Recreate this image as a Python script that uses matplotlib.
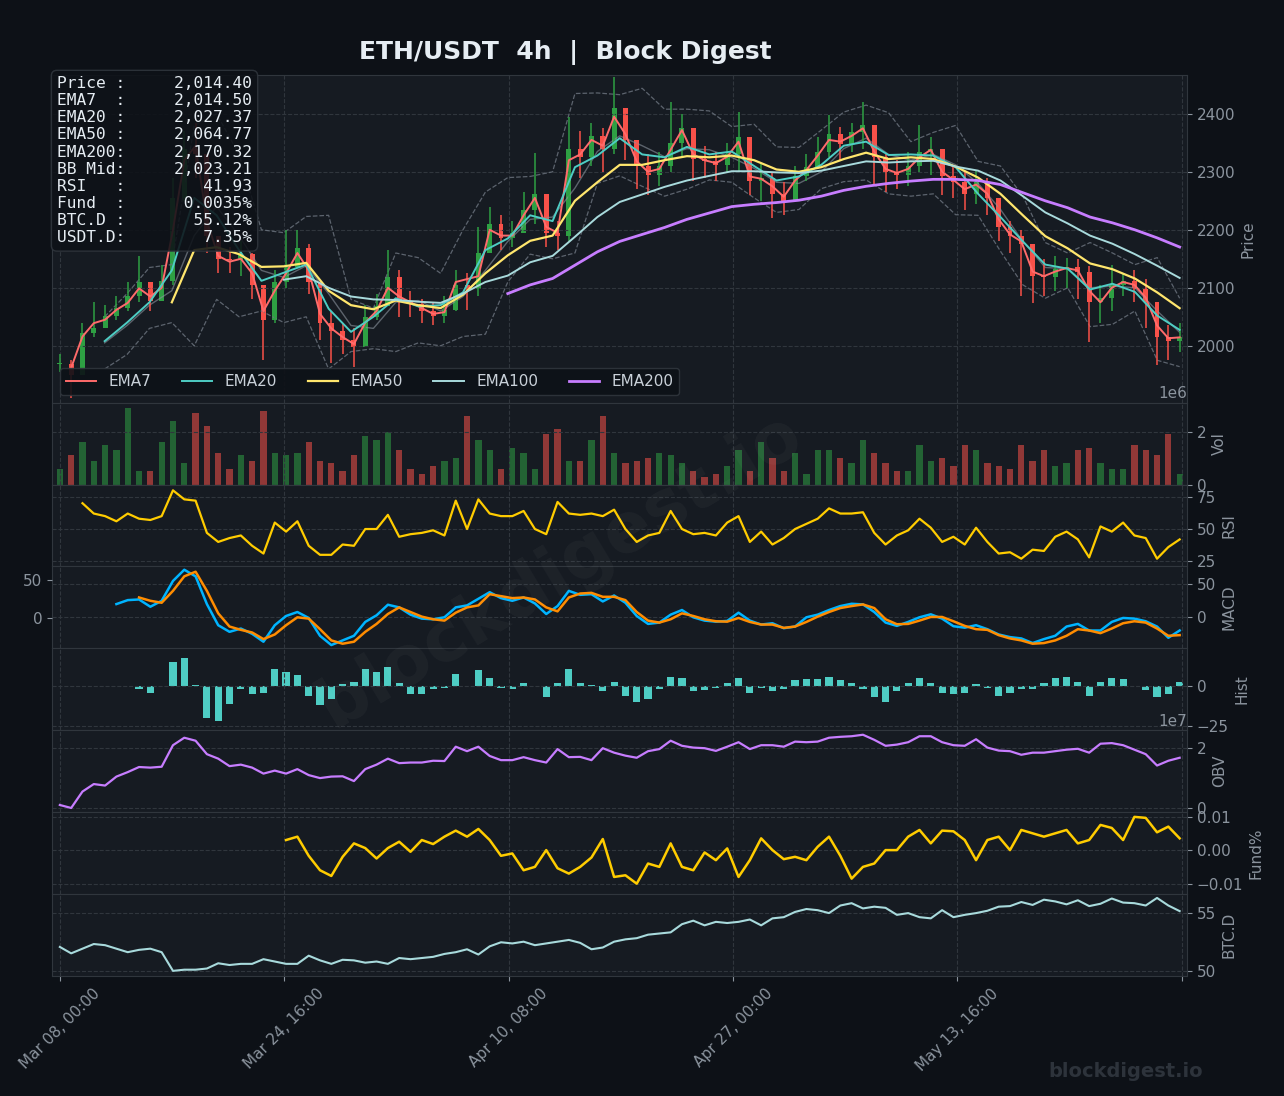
import numpy as np
import pandas as pd
import matplotlib
matplotlib.use("Agg")
import matplotlib.pyplot as plt

BG = "#0d1117"
PANEL = "#161b22"
GRID = "#30363d"
TXT = "#8b949e"
UP = "#2ea043"
DN = "#f85149"

# ---- ETH/USDT 4h, every 5 bars (last point = bar 499) ----
close = [1968, 1950, 2022, 2030, 2052, 2066, 2085, 2110, 2078, 2112,
         2255, 2340, 2330, 2190, 2150, 2148, 2158, 2105, 2045, 2110,
         2135, 2168, 2110, 2040, 2025, 2010, 1998, 2050, 2068, 2118,
         2078, 2072, 2060, 2052, 2062, 2105, 2098, 2160, 2210, 2185,
         2195, 2235, 2262, 2195, 2190, 2340, 2325, 2362, 2340, 2410,
         2355, 2310, 2295, 2310, 2350, 2375, 2322, 2318, 2312, 2330,
         2360, 2285, 2290, 2262, 2250, 2292, 2308, 2335, 2365, 2348,
         2368, 2380, 2325, 2300, 2295, 2310, 2335, 2340, 2292, 2282,
         2262, 2282, 2255, 2205, 2190, 2175, 2120, 2118, 2132, 2136,
         2128, 2075, 2082, 2105, 2112, 2098, 2075, 2015, 2008, 2014.4]
high = [1985, 1975, 2040, 2075, 2070, 2085, 2110, 2155, 2105, 2140,
        2290, 2370, 2385, 2260, 2185, 2170, 2180, 2160, 2085, 2130,
        2200, 2200, 2175, 2090, 2060, 2040, 2030, 2070, 2090, 2166,
        2130, 2095, 2080, 2075, 2085, 2131, 2125, 2205, 2240, 2225,
        2215, 2265, 2332, 2245, 2215, 2395, 2370, 2385, 2375, 2464,
        2400, 2355, 2330, 2335, 2421, 2400, 2365, 2345, 2335, 2350,
        2404, 2340, 2315, 2300, 2282, 2310, 2330, 2360, 2398, 2378,
        2385, 2421, 2365, 2330, 2320, 2335, 2381, 2360, 2330, 2310,
        2300, 2303, 2290, 2255, 2215, 2200, 2160, 2150, 2155, 2152,
        2150, 2138, 2105, 2140, 2125, 2130, 2115, 2070, 2035, 2040]
low = [1955, 1910, 1995, 2015, 2030, 2045, 2060, 2075, 2060, 2085,
       2105, 2250, 2290, 2160, 2125, 2125, 2120, 2080, 1976, 2040,
       2100, 2135, 2090, 2010, 1970, 1985, 1964, 2000, 2045, 2075,
       2050, 2050, 2040, 2035, 2040, 2060, 2062, 2085, 2160, 2165,
       2170, 2200, 2210, 2170, 2165, 2180, 2290, 2310, 2300, 2330,
       2320, 2270, 2260, 2275, 2300, 2325, 2285, 2290, 2285, 2300,
       2300, 2260, 2250, 2220, 2225, 2255, 2285, 2305, 2325, 2320,
       2335, 2340, 2275, 2265, 2270, 2275, 2300, 2295, 2260, 2255,
       2235, 2245, 2225, 2180, 2160, 2085, 2074, 2085, 2095, 2100,
       2080, 2007, 2040, 2060, 2085, 2075, 2030, 1967, 1975, 1990]
ema7 = [None, 1962, 2016, 2039, 2045, 2062, 2074, 2099, 2085, 2100,
        2200, 2320, 2345, 2215, 2155, 2145, 2150, 2125, 2060, 2095,
        2125, 2160, 2130, 2055, 2030, 2015, 2003, 2040, 2060, 2100,
        2085, 2075, 2065, 2055, 2058, 2110, 2115, 2120, 2200, 2190,
        2190, 2225, 2255, 2205, 2195, 2320, 2330, 2355, 2345, 2395,
        2365, 2318, 2300, 2305, 2338, 2372, 2330, 2320, 2315, 2326,
        2352, 2292, 2288, 2275, 2257, 2285, 2303, 2328, 2355, 2352,
        2362, 2375, 2335, 2305, 2298, 2305, 2325, 2338, 2300, 2286,
        2270, 2278, 2262, 2218, 2192, 2180, 2128, 2120, 2128, 2134,
        2130, 2095, 2075, 2100, 2110, 2105, 2083, 2035, 2013, 2014.5]

# smoother lines, every 10 bars (bar 0 ... bar 500)
ema20 = [None, None, 2008, 2040, 2075, 2130, 2255, 2225, 2165, 2112,
         2126, 2140, 2064, 2024, 2050, 2082, 2068, 2070, 2092, 2165,
         2185, 2225, 2215, 2308, 2328, 2358, 2330, 2325, 2343, 2330,
         2335, 2310, 2285, 2292, 2312, 2345, 2352, 2329, 2330, 2328,
         2308, 2262, 2222, 2180, 2140, 2133, 2097, 2107, 2093, 2052, 2027.4]
ema50 = [None, None, None, None, None, 2075, 2165, 2170, 2158, 2136,
         2137, 2143, 2095, 2070, 2063, 2078, 2070, 2065, 2088, 2125,
         2156, 2181, 2190, 2250, 2282, 2312, 2312, 2320, 2327, 2325,
         2328, 2320, 2304, 2300, 2308, 2322, 2333, 2322, 2325, 2322,
         2309, 2290, 2262, 2225, 2189, 2168, 2142, 2132, 2116, 2092, 2064.8]
ema100 = [None, None, None, None, None, None, None, None, None, None,
          2114, 2120, 2100, 2085, 2080, 2079, 2076, 2074, 2090, 2110,
          2121, 2144, 2155, 2188, 2222, 2248, 2261, 2274, 2285, 2293,
          2301, 2301, 2299, 2298, 2302, 2310, 2318, 2316, 2318, 2319,
          2309, 2302, 2285, 2258, 2230, 2211, 2190, 2176, 2158, 2138, 2117]
ema200 = [None] * 20 + [2090, 2105, 2116, 2139, 2162, 2180, 2192, 2204, 2218, 2229,
                        2240, 2244, 2247, 2251, 2258, 2268, 2275, 2280, 2284, 2287,
                        2287, 2285, 2278, 2264, 2250, 2238, 2222, 2212, 2200, 2186, 2170.3]
bb_mid = [None, None, 2005, 2035, 2070, 2095, 2190, 2240, 2190, 2130,
          2118, 2138, 2090, 2035, 2030, 2075, 2078, 2060, 2085, 2130,
          2180, 2218, 2222, 2272, 2335, 2362, 2345, 2326, 2340, 2338,
          2325, 2306, 2282, 2280, 2300, 2340, 2358, 2330, 2320, 2330,
          2312, 2280, 2235, 2180, 2135, 2133, 2100, 2103, 2100, 2060, 2023.2]
bb_up = [None, None, 2050, 2090, 2135, 2140, 2380, 2400, 2330, 2200,
         2195, 2223, 2225, 2080, 2065, 2160, 2152, 2125, 2200, 2265,
         2290, 2292, 2300, 2435, 2436, 2433, 2444, 2408, 2408, 2405,
         2378, 2382, 2343, 2342, 2372, 2403, 2415, 2402, 2352, 2368,
         2380, 2318, 2310, 2258, 2178, 2160, 2178, 2160, 2140, 2152, 2082]
bb_lo = [None, None, 1960, 1985, 2030, 2040, 2000, 2080, 2050, 2060,
         2040, 2050, 1960, 1990, 1995, 1990, 2005, 2000, 2016, 2020,
         2110, 2158, 2150, 2160, 2280, 2293, 2275, 2258, 2270, 2286,
         2282, 2255, 2230, 2235, 2271, 2283, 2286, 2262, 2258, 2262,
         2226, 2225, 2163, 2105, 2082, 2100, 2033, 2037, 2060, 1975, 1964]

vol_m = [0.6, 1.1, 1.6, 0.9, 1.5, 1.3, 2.9, 0.5, 0.5, 1.6,
         2.4, 0.8, 2.7, 2.2, 1.2, 0.6, 1.1, 0.9, 2.8, 1.2,
         1.1, 1.2, 1.6, 0.9, 0.8, 0.5, 1.1, 1.85, 1.7, 2.0,
         1.3, 0.6, 0.4, 0.7, 0.9, 1.0, 2.6, 1.7, 1.3, 0.6,
         1.4, 1.2, 0.6, 1.9, 2.1, 0.9, 0.9, 1.7, 2.6, 1.2,
         0.8, 0.9, 1.0, 1.2, 1.1, 0.8, 0.5, 0.3, 0.4, 0.7,
         1.3, 0.5, 1.6, 1.0, 0.5, 1.2, 0.4, 1.3, 1.3, 1.0,
         0.8, 1.7, 1.2, 0.8, 0.5, 0.5, 1.5, 0.9, 1.0, 0.7,
         1.5, 1.3, 0.8, 0.7, 0.6, 1.5, 0.9, 1.3, 0.7, 0.8,
         1.3, 1.4, 0.8, 0.6, 0.6, 1.5, 1.3, 1.1, 1.9, 0.4]
rsi = [None, None, 70, 62, 60, 56, 62, 58, 57, 60,
       80, 73, 72, 47, 40, 43, 45, 37, 31, 55,
       48, 56, 37, 30, 30, 38, 37, 50, 50, 61,
       44, 46, 47, 49, 45, 72, 50, 73, 62, 60,
       60, 64, 50, 46, 71, 62, 61, 62, 60, 65,
       50, 40, 45, 47, 64, 50, 46, 47, 45, 55,
       60, 40, 48, 38, 43, 50, 54, 58, 66, 62,
       62, 63, 47, 38, 45, 49, 58, 51, 40, 44,
       38, 51, 40, 31, 32, 27, 34, 33, 44, 48,
       42, 28, 52, 48, 55, 45, 43, 27, 36, 41.93]
macd = [None, None, None, None, None, 20, 26, 27, 16, 25,
        55, 72, 62, 20, -12, -22, -17, -25, -37, -12,
        2, 8, -1, -28, -42, -35, -28, -7, 3, 19,
        15, 4, -2, -3, 0, 15, 18, 28, 38, 29,
        25, 30, 21, 5, 17, 40, 34, 35, 24, 33,
        22, 2, -10, -8, 4, 11, 0, -5, -6.6, -5.5,
        7, -5, -11, -9, -16.5, -14, 0, 4, 11, 17,
        20.5, 19.5, 8, -8, -13, -7, 0, 4.5, -2, -13.5,
        -15.7, -12, -18, -26, -30, -32, -39, -33, -28, -14,
        -10, -20, -20, -7, -1, -2, -6, -14, -31, -20]
signal = [None, None, None, None, None, None, None, 30, 25, 22,
          40, 62, 69, 40, 6, -14, -19, -23, -33, -26,
          -12, 0, -2, -18, -35, -40, -37, -22, -10, 5,
          15, 8, 1, -3, -5, 7, 15, 18, 35, 32,
          29, 30, 27, 15, 9, 30, 36, 37, 31, 31,
          26, 8, -5, -8, -3, 6, 2, -3, -6, -6.6,
          -1, -7, -11, -11, -16, -14, -7, 1, 8, 14,
          17, 19.5, 14, -3, -10.5, -10, -5, 0.5, 0.5, -6,
          -13, -18, -19, -27, -32, -35, -40, -39, -35, -28,
          -18, -20, -24, -17, -9, -6, -8, -17, -28, -27]
hist = [None, None, None, None, None, None, None, -2, -4, 0,
        15, 18, 1, -20, -22, -11, -2, -5, -4, 11,
        9, 7, -6, -12, -8, 1.7, 3, 11, 9, 12,
        2, -5, -4.6, -2, -1, 8, 0, 10, 5, -1.3,
        -2, 2, 0, -7, 2, 11, 2, 1, -3, 3,
        -6, -10, -8, -2, 6, 5, -3, -2.5, -1, 2,
        5, -4.5, -1, -3, -2, 4, 4.4, 4.4, 6, 4,
        2, -2, -7, -10, -3, 2.3, 5, 2, -4, -5,
        -4.5, 1.5, -1, -6, -4, -2, -2, 2, 5, 6,
        3, -6, 3, 5.4, 4.5, 0.5, -2.5, -7, -5, 3]
obv_e7 = [0.1, 0.0, 0.55, 0.8, 0.75, 1.05, 1.2, 1.37, 1.35, 1.38,
          2.1, 2.35, 2.25, 1.8, 1.65, 1.4, 1.45, 1.35, 1.15, 1.25,
          1.15, 1.3, 1.1, 1.0, 1.05, 1.06, 0.9, 1.3, 1.45, 1.65,
          1.5, 1.52, 1.52, 1.58, 1.57, 2.05, 1.9, 2.05, 1.74, 1.6,
          1.6, 1.7, 1.6, 1.52, 1.97, 1.7, 1.71, 1.6, 2.0, 1.85,
          1.75, 1.68, 1.9, 1.97, 2.25, 2.08, 2.02, 2.0, 1.91, 2.05,
          2.2, 1.97, 2.1, 2.1, 2.05, 2.22, 2.2, 2.22, 2.35, 2.38,
          2.4, 2.45, 2.28, 2.08, 2.12, 2.2, 2.4, 2.4, 2.2, 2.1,
          2.08, 2.3, 2.02, 1.92, 1.9, 1.78, 1.85, 1.85, 1.9, 1.95,
          1.98, 1.85, 2.15, 2.17, 2.1, 1.95, 1.8, 1.42, 1.58, 1.68]
fund_pct = [None] * 20 + [
    0.0030, 0.0040, -0.0017, -0.0060, -0.0077, -0.0020, 0.0020, 0.0006, -0.0025, 0.0006,
    0.0025, -0.0005, 0.0030, 0.0018, 0.0040, 0.0058, 0.0040, 0.0063, 0.0030, -0.0017,
    -0.0010, -0.0060, -0.0050, 0.0000, -0.0054, -0.0070, -0.0050, -0.0022, 0.0033, -0.0080,
    -0.0075, -0.0100, -0.0040, -0.0050, 0.0020, -0.0050, -0.0060, -0.0007, -0.0030, 0.0005,
    -0.0080, -0.0030, 0.0035, 0.0000, -0.0027, -0.0020, -0.0030, 0.0010, 0.0040, -0.0017,
    -0.0085, -0.0050, -0.0040, 0.0000, 0.0000, 0.0040, 0.0060, 0.0020, 0.0058, 0.0056,
    0.0030, -0.0030, 0.0030, 0.0040, 0.0000, 0.0060, 0.0050, 0.0040, 0.0050, 0.0060,
    0.0020, 0.0030, 0.0075, 0.0066, 0.0030, 0.0099, 0.0096, 0.0053, 0.0070, 0.0035]
btcd = [52.05, 51.5, 51.9, 52.3, 52.2, 51.9, 51.6, 51.8, 51.9, 51.6,
        50.0, 50.1, 50.1, 50.2, 50.65, 50.5, 50.6, 50.6, 51.0, 50.8,
        50.6, 50.6, 51.3, 50.9, 50.6, 50.95, 50.9, 50.7, 50.8, 50.6,
        51.1, 51.0, 51.1, 51.2, 51.45, 51.6, 51.85, 51.4, 52.1, 52.45,
        52.35, 52.5, 52.2, 52.35, 52.5, 52.65, 52.4, 51.85, 52.0, 52.5,
        52.7, 52.8, 53.1, 53.2, 53.3, 54.0, 54.3, 53.9, 54.2, 54.1,
        54.2, 54.4, 53.9, 54.5, 54.6, 55.05, 55.3, 55.2, 54.95, 55.6,
        55.8, 55.35, 55.5, 55.4, 54.8, 54.95, 54.6, 54.5, 55.2, 54.6,
        54.8, 54.95, 55.15, 55.5, 55.55, 55.9, 55.65, 56.1, 55.95, 55.7,
        56.05, 55.55, 55.75, 56.2, 55.85, 55.8, 55.6, 56.25, 55.6, 55.12]

info_rows = [("Price", "2,014.40"), ("EMA7", "2,014.50"), ("EMA20", "2,027.37"),
             ("EMA50", "2,064.77"), ("EMA200", "2,170.32"), ("BB Mid", "2,023.21"),
             ("RSI", "41.93"), ("Fund", "0.0035%"), ("BTC.D", "55.12%"), ("USDT.D", "7.35%")]

start = pd.Timestamp("2024-03-08 00:00")
tick_bars = [0, 100, 200, 300, 400, 500]

f = lambda a: np.array(a, dtype=float)
x5 = np.linspace(0, 499, len(close))
x10 = np.linspace(0, 499, len(ema20))

fig = plt.figure(figsize=(12.84, 10.96), dpi=100, facecolor=BG)
gs = fig.add_gridspec(8, 1, height_ratios=[4, 1, 1, 1, 1, 1, 1, 1], hspace=0,
                      left=0.0405, right=0.9245, top=0.9316, bottom=0.1095)
ax_p = fig.add_subplot(gs[0])
axs = [ax_p] + [fig.add_subplot(gs[i], sharex=ax_p) for i in range(1, 8)]
ax_p, ax_v, ax_r, ax_m, ax_h, ax_o, ax_f, ax_b = axs

names = ["Price", "Vol", "RSI", "MACD", "Hist", "OBV", "Fund%", "BTC.D"]
for ax, lab in zip(axs, names):
    ax.set_facecolor(PANEL)
    ax.set_ylabel(lab, color=TXT, fontsize=11)
    ax.tick_params(colors=TXT, labelsize=11)
    ax.grid(True, ls="--", color=GRID, lw=0.8)
    ax.yaxis.get_offset_text().set_color(TXT)
    ax.yaxis.get_offset_text().set_fontsize(11)
    for s in ax.spines.values():
        s.set_color(GRID)
    if ax is not ax_b:
        ax.tick_params(axis="x", labelbottom=False, bottom=False)

# price: candles + EMAs + Bollinger
c = f(close)
o = np.r_[c[0], c[:-1]]
col = np.where(c >= o, UP, DN)
ax_p.plot(x10, f(bb_up), ls="--", color="#6e7681", lw=0.9, alpha=0.8)
ax_p.plot(x10, f(bb_lo), ls="--", color="#6e7681", lw=0.9, alpha=0.8)
ax_p.plot(x10, f(bb_mid), color="#8b949e", lw=1.0, alpha=0.6)
ax_p.vlines(x5, f(low), f(high), colors=col, lw=1.1)
ax_p.bar(x5, np.maximum(np.abs(c - o), 1.5), bottom=np.minimum(o, c), width=2.2, color=col)
ax_p.plot(x5, f(ema7), color="#ff6b6b", lw=1.4, label="EMA7")
ax_p.plot(x10, f(ema20), color="#4ecdc4", lw=1.4, label="EMA20")
ax_p.plot(x10, f(ema50), color="#ffe66d", lw=1.6, label="EMA50")
ax_p.plot(x10, f(ema100), color="#a8dadc", lw=1.4, label="EMA100")
ax_p.plot(x10, f(ema200), color="#c77dff", lw=2.0, label="EMA200")
ax_p.set_ylim(1902, 2467)
ax_p.set_yticks([2000, 2100, 2200, 2300, 2400])
ax_p.legend(loc="lower left", ncol=5, fontsize=11, facecolor=BG, edgecolor=GRID,
            labelcolor="#c9d1d9", framealpha=0.9)

# volume
ax_v.bar(x5, f(vol_m) * 1e6, width=2.8, color=col, alpha=0.55)
ax_v.set_ylim(0, 3.1e6)
ax_v.set_yticks([0, 2e6])

# RSI
ax_r.plot(x5, f(rsi), color="#ffcc00", lw=1.6)
ax_r.set_ylim(21, 84.5)
ax_r.set_yticks([25, 50, 75])

# MACD (with a second scale on the left)
ax_m.plot(x5, f(macd), color="#00b4ff", lw=1.8)
ax_m.plot(x5, f(signal), color="#ff8c00", lw=1.8)
ax_m.set_ylim(-47, 77)
ax_m.set_yticks([0, 50])
ax_ml = ax_m.twinx()
ax_ml.set_ylim(-39, 68)
ax_ml.set_yticks([0, 50])
ax_ml.yaxis.tick_left()
ax_ml.tick_params(colors=TXT, labelsize=11)
for s in ax_ml.spines.values():
    s.set_visible(False)

# histogram
ax_h.bar(x5, f(hist), width=3.2, color="#4ecdc4")
ax_h.set_ylim(-27.5, 23.75)
ax_h.set_yticks([-25, 0])

# OBV
ax_o.plot(x5, f(obv_e7) * 1e7, color="#c77dff", lw=1.6)
ax_o.set_ylim(-0.14e7, 2.6e7)
ax_o.set_yticks([0, 2e7])

# funding
ax_f.plot(x5, f(fund_pct), color="#ffcc00", lw=1.8)
ax_f.set_ylim(-0.0131, 0.0113)
ax_f.set_yticks([-0.01, 0, 0.01])

# BTC dominance
ax_b.plot(x5, f(btcd), color="#a8dadc", lw=1.5)
ax_b.set_ylim(49.56, 56.58)
ax_b.set_yticks([50, 55])

# right-hand scales on every panel (twinx moved the MACD one to the left)
for ax in axs:
    ax.yaxis.tick_right()
    ax.yaxis.set_label_position("right")
    ax.yaxis.set_offset_position("right")

labels = [(start + pd.Timedelta(hours=4 * b)).strftime("%b %d, %H:%M") for b in tick_bars[:-1]] + [""]
ax_b.set_xticks(tick_bars)
ax_b.set_xticklabels(labels, rotation=45, fontsize=11, color=TXT)
ax_b.set_xlim(-3.5, 502.3)

fig.text(0.44, 0.952, "ETH/USDT  4h  |  Block Digest", ha="center", va="center",
         fontsize=18, fontweight="bold", color="#e6edf3")

info = "\n".join(f"{k:<6}:{v:>13}" for k, v in info_rows)
fig.text(57 / 1284, 1 - 76 / 1096, info, ha="left", va="top", family="DejaVu Sans Mono",
         fontsize=11.7, linespacing=1.18, color="#e6edf3",
         bbox=dict(boxstyle="round,pad=0.35", facecolor=BG, edgecolor=GRID, alpha=0.88))

fig.text(0.436, 0.48, "blockdigest.io", rotation=31, fontsize=50, fontweight="bold",
         color="white", alpha=0.035, ha="center", va="center")
fig.text(0.877, 0.0228, "blockdigest.io", fontsize=14, fontweight="bold",
         color="#2d333b", ha="center", va="center")

fig.savefig("out.png", dpi=100, facecolor=BG)
